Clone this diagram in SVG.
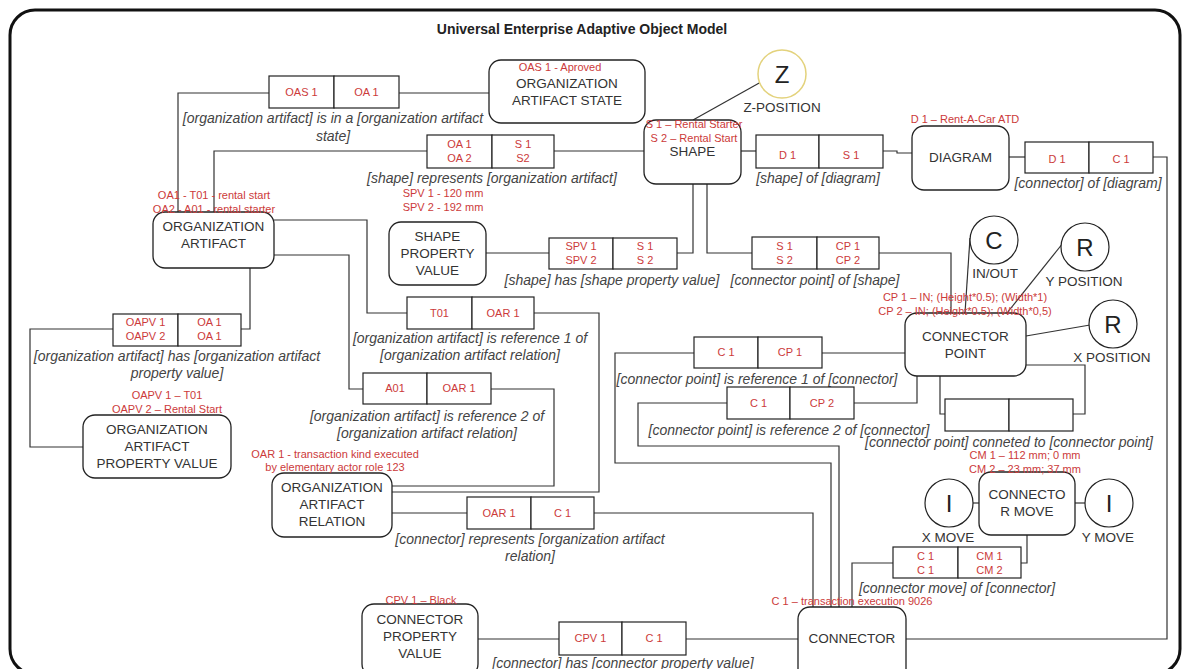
<svg xmlns="http://www.w3.org/2000/svg" width="1183" height="669" viewBox="0 0 1183 669">
<style>
.frame{fill:#fff;stroke:#111;stroke-width:3}
.node{fill:#fff;stroke:#222;stroke-width:1.3}
.cell{fill:#fff;stroke:#222;stroke-width:1.2}
.circ{fill:#fff;stroke:#222;stroke-width:1.2}
.zc{fill:#fff;stroke:#e3d27c;stroke-width:1.5}
.wire{fill:none;stroke:#333;stroke-width:1.2}
text{font-family:"Liberation Sans",Arial,sans-serif;text-anchor:middle}
.t{font-size:13.5px;fill:#333}
.r{font-size:11px;fill:#cc3a3a}
.l{font-size:14px;font-style:italic;fill:#444}
.big{font-size:24px;fill:#222}
.title{font-size:14px;font-weight:bold;fill:#222}
</style>
<rect class="frame" x="10" y="10" width="1170" height="664" rx="25"/>
<text class="title" x="582" y="34">Universal Enterprise Adaptive Object Model</text>

<g id="connectors">
<polyline class="wire" points="269,93 178,93 178,212"/>
<polyline class="wire" points="399,93 489,93"/>
<polyline class="wire" points="427,151 214,151 214,212"/>
<polyline class="wire" points="554,151 644,151"/>
<polyline class="wire" points="741,151 756,151"/>
<polyline class="wire" points="883,151 897,151 897,153 912,153"/>
<polyline class="wire" points="1009,157 1025,157"/>
<polyline class="wire" points="1153,157 1167,157 1167,639 906,639"/>
<polyline class="wire" points="486,253 549,253"/>
<polyline class="wire" points="677,253 693,253 693,184"/>
<polyline class="wire" points="707,184 707,253 752,253"/>
<polyline class="wire" points="879,253 951,253 951,313"/>
<polyline class="wire" points="250,268 250,329 241,329"/>
<polyline class="wire" points="113,329 30,329 30,447 83,447"/>
<polyline class="wire" points="274,220 367,220 367,313 407,313"/>
<polyline class="wire" points="534,313 599,313 599,492 392,492"/>
<polyline class="wire" points="274,255 349,255 349,389 363,389"/>
<polyline class="wire" points="491,389 554,389 554,486 392,486"/>
<polyline class="wire" points="822,353 905,353"/>
<polyline class="wire" points="694,353 615,353 615,463 831,463 831,607"/>
<polyline class="wire" points="854,403 917,403 917,376"/>
<polyline class="wire" points="727,403 638,403 638,446 839,446 839,607"/>
<polyline class="wire" points="940,376 940,414 945,414"/>
<polyline class="wire" points="1073,414 1085,414 1085,365 1026,365"/>
<polyline class="wire" points="1027,535 1027,563 1021,563"/>
<polyline class="wire" points="893,563 852,563 852,607"/>
<polyline class="wire" points="392,513 467,513"/>
<polyline class="wire" points="594,513 813,513 813,607"/>
<polyline class="wire" points="478,639 559,639"/>
<polyline class="wire" points="686,639 798,639"/>
<line class="wire" x1="693" y1="120" x2="761" y2="82"/>
<line class="wire" x1="970" y1="238" x2="965" y2="313"/>
<line class="wire" x1="1063" y1="243" x2="1007" y2="313"/>
<line class="wire" x1="1026" y1="336" x2="1090" y2="325"/>
<line class="wire" x1="973" y1="503" x2="979" y2="503"/>
<line class="wire" x1="1075" y1="503" x2="1085" y2="503"/>
</g>

<g id="rel-oas">
<rect class="cell" x="269" y="76" width="65" height="32"/><rect class="cell" x="334" y="76" width="65" height="32"/>
<text class="r" x="301.5" y="96">OAS 1</text><text class="r" x="366.5" y="96">OA 1</text>
<text class="l" x="333" y="123">[organization artifact] is in a [organization artifact</text>
<text class="l" x="333" y="141">state]</text>
</g>
<g id="rel-shape-oa">
<rect class="cell" x="427" y="135" width="65" height="33"/><rect class="cell" x="492" y="135" width="62" height="33"/>
<text class="r" x="459.5" y="148">OA 1</text><text class="r" x="459.5" y="162">OA 2</text>
<text class="r" x="523" y="148">S 1</text><text class="r" x="523" y="162">S2</text>
<text class="l" x="492" y="183">[shape] represents [organization artifact]</text>
</g>
<g id="rel-shape-diagram">
<rect class="cell" x="756" y="135" width="63" height="33"/><rect class="cell" x="819" y="135" width="64" height="33"/>
<text class="r" x="787.5" y="159">D 1</text><text class="r" x="851" y="159">S 1</text>
<text class="l" x="818" y="183">[shape] of [diagram]</text>
</g>
<g id="rel-connector-diagram">
<rect class="cell" x="1025" y="142" width="64" height="31"/><rect class="cell" x="1089" y="142" width="64" height="31"/>
<text class="r" x="1057" y="163">D 1</text><text class="r" x="1121" y="163">C 1</text>
<text class="l" x="1088" y="188">[connector] of [diagram]</text>
</g>
<g id="rel-spv">
<rect class="cell" x="549" y="238" width="64" height="31"/><rect class="cell" x="613" y="238" width="64" height="31"/>
<text class="r" x="581" y="250">SPV 1</text><text class="r" x="581" y="264">SPV 2</text>
<text class="r" x="645" y="250">S 1</text><text class="r" x="645" y="264">S 2</text>
<text class="l" x="612" y="285">[shape] has [shape property value]</text>
</g>
<g id="rel-cp-shape">
<rect class="cell" x="752" y="237" width="65" height="32"/><rect class="cell" x="817" y="237" width="62" height="32"/>
<text class="r" x="784.5" y="250">S 1</text><text class="r" x="784.5" y="264">S 2</text>
<text class="r" x="848" y="250">CP 1</text><text class="r" x="848" y="264">CP 2</text>
<text class="l" x="815" y="285">[connector point] of [shape]</text>
</g>
<g id="rel-oapv">
<rect class="cell" x="113" y="314" width="65" height="32"/><rect class="cell" x="178" y="314" width="63" height="32"/>
<text class="r" x="145.5" y="326">OAPV 1</text><text class="r" x="145.5" y="340">OAPV 2</text>
<text class="r" x="209.5" y="326">OA 1</text><text class="r" x="209.5" y="340">OA 1</text>
<text class="l" x="177" y="361">[organization artifact] has [organization artifact</text>
<text class="l" x="177" y="378">property value]</text>
</g>
<g id="rel-ref1">
<rect class="cell" x="407" y="297" width="65" height="32"/><rect class="cell" x="472" y="297" width="62" height="32"/>
<text class="r" x="439.5" y="317">T01</text><text class="r" x="503" y="317">OAR 1</text>
<text class="l" x="470" y="343">[organization artifact] is reference 1 of</text>
<text class="l" x="470" y="360">[organization artifact relation]</text>
</g>
<g id="rel-ref2">
<rect class="cell" x="363" y="373" width="64" height="31"/><rect class="cell" x="427" y="373" width="64" height="31"/>
<text class="r" x="395" y="392">A01</text><text class="r" x="459" y="392">OAR 1</text>
<text class="l" x="427" y="421">[organization artifact] is reference 2 of</text>
<text class="l" x="427" y="438">[organization artifact relation]</text>
</g>
<g id="rel-cp-ref1">
<rect class="cell" x="694" y="337" width="64" height="31"/><rect class="cell" x="758" y="337" width="64" height="31"/>
<text class="r" x="726" y="356">C 1</text><text class="r" x="790" y="356">CP 1</text>
<text class="l" x="757" y="384">[connector point] is reference 1 of [connector]</text>
</g>
<g id="rel-cp-ref2">
<rect class="cell" x="727" y="387" width="63" height="32"/><rect class="cell" x="790" y="387" width="64" height="32"/>
<text class="r" x="758.5" y="407">C 1</text><text class="r" x="822" y="407">CP 2</text>
<text class="l" x="789" y="435">[connector point] is reference 2 of [connector]</text>
</g>
<g id="rel-cp-cp">
<rect class="cell" x="945" y="399" width="64" height="32"/><rect class="cell" x="1009" y="399" width="64" height="32"/>
<text class="l" x="1009" y="447">[connector point] conneted to [connector point]</text>
</g>
<g id="rel-cm">
<rect class="cell" x="893" y="547" width="65" height="31"/><rect class="cell" x="958" y="547" width="63" height="31"/>
<text class="r" x="925.5" y="560">C 1</text><text class="r" x="925.5" y="574">C 1</text>
<text class="r" x="989.5" y="560">CM 1</text><text class="r" x="989.5" y="574">CM 2</text>
<text class="l" x="957" y="593">[connector move] of [connector]</text>
</g>
<g id="rel-connector-oar">
<rect class="cell" x="467" y="497" width="64" height="32"/><rect class="cell" x="531" y="497" width="63" height="32"/>
<text class="r" x="499" y="517">OAR 1</text><text class="r" x="562.5" y="517">C 1</text>
<text class="l" x="530" y="544">[connector] represents [organization artifact</text>
<text class="l" x="530" y="561">relation]</text>
</g>
<g id="rel-cpv">
<rect class="cell" x="559" y="622" width="63" height="33"/><rect class="cell" x="622" y="622" width="64" height="33"/>
<text class="r" x="590.5" y="642">CPV 1</text><text class="r" x="654" y="642">C 1</text>
<text class="l" x="623" y="668">[connector] has [connector property value]</text>
</g>

<g id="node-oas">
<rect class="node" x="489" y="60" width="156" height="63" rx="12"/>
<text class="r" x="560" y="71">OAS 1 - Aproved</text>
<text class="t" x="567" y="88">ORGANIZATION</text>
<text class="t" x="567" y="105">ARTIFACT STATE</text>
</g>
<g id="node-shape">
<rect class="node" x="644" y="120" width="97" height="64" rx="12"/>
<text class="r" x="694" y="128">S 1 – Rental Starter</text>
<text class="r" x="694" y="142">S 2 – Rental Start</text>
<text class="t" x="692.5" y="156">SHAPE</text>
</g>
<g id="node-z">
<circle class="zc" cx="782" cy="74" r="24"/>
<text class="big" x="782" y="83">Z</text>
<text class="t" x="782" y="112">Z-POSITION</text>
</g>
<g id="node-diagram">
<rect class="node" x="912" y="126" width="97" height="64" rx="12"/>
<text class="r" x="965" y="123">D 1 – Rent-A-Car ATD</text>
<text class="t" x="960.5" y="162">DIAGRAM</text>
</g>
<g id="node-oa">
<rect class="node" x="153" y="212" width="121" height="56" rx="12"/>
<text class="r" x="214" y="199">OA1 - T01 - rental start</text>
<text class="r" x="214" y="213">OA2 - A01 - rental starter</text>
<text class="t" x="213.5" y="231">ORGANIZATION</text>
<text class="t" x="213.5" y="248">ARTIFACT</text>
</g>
<g id="node-spv">
<rect class="node" x="389" y="222" width="97" height="63" rx="12"/>
<text class="r" x="443" y="197">SPV 1 - 120 mm</text>
<text class="r" x="443" y="211">SPV 2 - 192 mm</text>
<text class="t" x="437.5" y="241">SHAPE</text>
<text class="t" x="437.5" y="258">PROPERTY</text>
<text class="t" x="437.5" y="275">VALUE</text>
</g>
<g id="node-oapv">
<rect class="node" x="83" y="415" width="148" height="63" rx="12"/>
<text class="r" x="167" y="399">OAPV 1 – T01</text>
<text class="r" x="167" y="413">OAPV 2 – Rental Start</text>
<text class="t" x="157" y="434">ORGANIZATION</text>
<text class="t" x="157" y="451">ARTIFACT</text>
<text class="t" x="157" y="468">PROPERTY VALUE</text>
</g>
<g id="node-oar">
<rect class="node" x="272" y="473" width="120" height="64" rx="12"/>
<text class="r" x="335" y="458">OAR 1 - transaction kind executed</text>
<text class="r" x="335" y="471">by elementary actor role 123</text>
<text class="t" x="332" y="492">ORGANIZATION</text>
<text class="t" x="332" y="509">ARTIFACT</text>
<text class="t" x="332" y="526">RELATION</text>
</g>
<g id="node-cpv">
<rect class="node" x="362" y="604" width="116" height="72" rx="12"/>
<text class="r" x="421" y="604">CPV 1 – Black</text>
<text class="t" x="420" y="624">CONNECTOR</text>
<text class="t" x="420" y="641">PROPERTY</text>
<text class="t" x="420" y="658">VALUE</text>
</g>
<g id="node-cp">
<rect class="node" x="905" y="313" width="121" height="63" rx="12"/>
<text class="r" x="965" y="301">CP 1 – IN; (Height*0.5); (Width*1)</text>
<text class="r" x="965" y="315">CP 2 – IN; (Height*0.5); (Width*0,5)</text>
<text class="t" x="965.5" y="341">CONNECTOR</text>
<text class="t" x="965.5" y="358">POINT</text>
</g>
<g id="node-c-inout">
<circle class="circ" cx="994" cy="240" r="24"/>
<text class="big" x="994" y="249">C</text>
<text class="t" x="995" y="278">IN/OUT</text>
</g>
<g id="node-r-y">
<circle class="circ" cx="1085" cy="247" r="24"/>
<text class="big" x="1085" y="256">R</text>
<text class="t" x="1084" y="286">Y POSITION</text>
</g>
<g id="node-r-x">
<circle class="circ" cx="1113" cy="324" r="24"/>
<text class="big" x="1113" y="333">R</text>
<text class="t" x="1112" y="362">X POSITION</text>
</g>
<g id="node-cm">
<rect class="node" x="979" y="472" width="96" height="63" rx="12"/>
<text class="r" x="1025" y="459">CM 1 – 112 mm; 0 mm</text>
<text class="r" x="1025" y="473">CM 2 – 23 mm; 37 mm</text>
<text class="t" x="1027" y="499">CONNECTO</text>
<text class="t" x="1027" y="516">R MOVE</text>
</g>
<g id="node-i-x">
<circle class="circ" cx="949" cy="503" r="24"/>
<text class="big" x="949" y="512">I</text>
<text class="t" x="948" y="542">X MOVE</text>
</g>
<g id="node-i-y">
<circle class="circ" cx="1109" cy="503" r="24"/>
<text class="big" x="1109" y="512">I</text>
<text class="t" x="1108" y="542">Y MOVE</text>
</g>
<g id="node-connector">
<rect class="node" x="798" y="607" width="108" height="75" rx="12"/>
<text class="r" x="852" y="605">C 1 – transaction execution 9026</text>
<text class="t" x="852" y="643">CONNECTOR</text>
</g>
</svg>
